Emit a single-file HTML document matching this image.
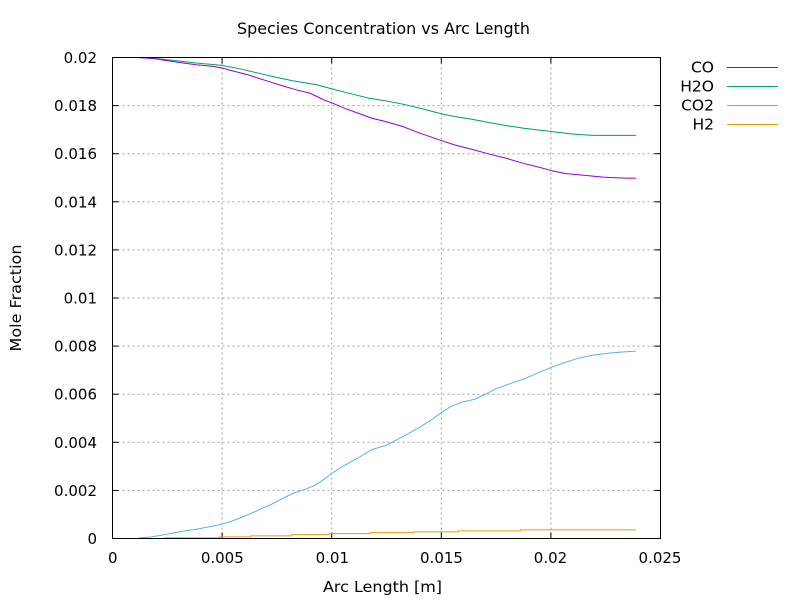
<!DOCTYPE html>
<html>
<head>
<meta charset="utf-8">
<style>
  html, body { margin: 0; padding: 0; background: #fff; }
  svg { display: block; }
  text { font-family: "DejaVu Sans", "Liberation Sans", sans-serif; fill: #000; }
</style>
</head>
<body>
<svg width="800" height="600" viewBox="0 0 800 600" xmlns="http://www.w3.org/2000/svg">
  <rect x="0" y="0" width="800" height="600" fill="#fff"/>

  <!-- grid -->
  <g stroke="#a0a0a0" stroke-width="1" stroke-dasharray="2,3" fill="none">
    <line x1="222.1" y1="57.5" x2="222.1" y2="538.5"/>
    <line x1="331.7" y1="57.5" x2="331.7" y2="538.5"/>
    <line x1="441.3" y1="57.5" x2="441.3" y2="538.5"/>
    <line x1="550.9" y1="57.5" x2="550.9" y2="538.5"/>
    <line x1="112.5" y1="490.4" x2="660.5" y2="490.4"/>
    <line x1="112.5" y1="442.3" x2="660.5" y2="442.3"/>
    <line x1="112.5" y1="394.2" x2="660.5" y2="394.2"/>
    <line x1="112.5" y1="346.1" x2="660.5" y2="346.1"/>
    <line x1="112.5" y1="298.0" x2="660.5" y2="298.0"/>
    <line x1="112.5" y1="249.9" x2="660.5" y2="249.9"/>
    <line x1="112.5" y1="201.8" x2="660.5" y2="201.8"/>
    <line x1="112.5" y1="153.7" x2="660.5" y2="153.7"/>
    <line x1="112.5" y1="105.6" x2="660.5" y2="105.6"/>
  </g>

  <!-- ticks -->
  <g stroke="#000" stroke-width="1">
    <line x1="222.1" y1="538.5" x2="222.1" y2="532.5"/>
    <line x1="331.7" y1="538.5" x2="331.7" y2="532.5"/>
    <line x1="441.3" y1="538.5" x2="441.3" y2="532.5"/>
    <line x1="550.9" y1="538.5" x2="550.9" y2="532.5"/>
    <line x1="222.1" y1="57.5" x2="222.1" y2="63.5"/>
    <line x1="331.7" y1="57.5" x2="331.7" y2="63.5"/>
    <line x1="441.3" y1="57.5" x2="441.3" y2="63.5"/>
    <line x1="550.9" y1="57.5" x2="550.9" y2="63.5"/>
    <line x1="112.5" y1="490.4" x2="118.5" y2="490.4"/>
    <line x1="112.5" y1="442.3" x2="118.5" y2="442.3"/>
    <line x1="112.5" y1="394.2" x2="118.5" y2="394.2"/>
    <line x1="112.5" y1="346.1" x2="118.5" y2="346.1"/>
    <line x1="112.5" y1="298.0" x2="118.5" y2="298.0"/>
    <line x1="112.5" y1="249.9" x2="118.5" y2="249.9"/>
    <line x1="112.5" y1="201.8" x2="118.5" y2="201.8"/>
    <line x1="112.5" y1="153.7" x2="118.5" y2="153.7"/>
    <line x1="112.5" y1="105.6" x2="118.5" y2="105.6"/>
    <line x1="660.5" y1="490.4" x2="654.5" y2="490.4"/>
    <line x1="660.5" y1="442.3" x2="654.5" y2="442.3"/>
    <line x1="660.5" y1="394.2" x2="654.5" y2="394.2"/>
    <line x1="660.5" y1="346.1" x2="654.5" y2="346.1"/>
    <line x1="660.5" y1="298.0" x2="654.5" y2="298.0"/>
    <line x1="660.5" y1="249.9" x2="654.5" y2="249.9"/>
    <line x1="660.5" y1="201.8" x2="654.5" y2="201.8"/>
    <line x1="660.5" y1="153.7" x2="654.5" y2="153.7"/>
    <line x1="660.5" y1="105.6" x2="654.5" y2="105.6"/>
  </g>

  <!-- upper curves (CO, H2O) -->
  <g transform="matrix(0.345 0 0 0.3347 109.8 49.64)" fill="none">
    <polyline vector-effect="non-scaling-stroke" stroke="#009e73" stroke-width="1"
      points="85,24 130,26 200,34 250,40 326,47 380,58 430,70 480,82 530,93 600,105 646,118 700,132 750,145 800,153 850,163 900,175 962,192 1000,200 1050,208 1100,218 1150,227 1200,235 1282,245 1340,252 1400,256 1525,256"/>
    <polyline vector-effect="non-scaling-stroke" stroke="#9400d3" stroke-width="1"
      points="85,24 130,27 160,32 200,38 250,45 300,50 326,55 350,62 400,75 430,85 460,95 500,108 540,120 580,130 600,140 620,150 646,160 680,175 720,190 760,205 800,215 850,230 900,250 962,272 1000,285 1050,298 1100,312 1150,325 1200,340 1250,353 1282,362 1320,370 1400,378 1430,381 1490,384 1525,384"/>
  </g>

  <!-- lower curves (CO2, H2) -->
  <g transform="matrix(0.345 0 0 0.3324 109.8 339.8)" fill="none">
    <polyline vector-effect="non-scaling-stroke" stroke="#56b4e9" stroke-width="1"
      points="85,596 120,593 150,588 180,582 210,576 250,570 290,562 320,556 350,547 380,535 410,522 440,508 470,494 500,478 530,462 560,452 590,440 610,428 646,400 680,378 720,355 760,330 800,318 830,302 860,285 900,262 940,235 962,218 990,200 1020,188 1060,178 1090,163 1120,147 1160,132 1200,118 1240,100 1282,82 1320,68 1360,55 1400,46 1440,41 1480,37 1525,34"/>
    <path vector-effect="non-scaling-stroke" stroke="#e69f00" stroke-width="1"
      d="M155,596 H318 V593 H408 V590 H527 V586 H636 V583 H755 V580 H880 V578 H1010 V575 H1190 V572 H1525"/>
  </g>

  <!-- border -->
  <rect x="112.5" y="57.5" width="548" height="481" fill="none" stroke="#000" stroke-width="1"/>

  <!-- y tick labels -->
  <g font-size="15" text-anchor="end">
    <text x="97" y="544">0</text>
    <text x="97" y="496">0.002</text>
    <text x="97" y="448">0.004</text>
    <text x="97" y="399.7">0.006</text>
    <text x="97" y="351.6">0.008</text>
    <text x="97" y="303.5">0.01</text>
    <text x="97" y="255.4">0.012</text>
    <text x="97" y="207.3">0.014</text>
    <text x="97" y="159.2">0.016</text>
    <text x="97" y="111.1">0.018</text>
    <text x="97" y="63">0.02</text>
  </g>

  <!-- x tick labels -->
  <g font-size="15" text-anchor="middle">
    <text x="112.8" y="563">0</text>
    <text x="222.3" y="563">0.005</text>
    <text x="332.3" y="563">0.01</text>
    <text x="441.5" y="563">0.015</text>
    <text x="550.5" y="563">0.02</text>
    <text x="660" y="563">0.025</text>
  </g>

  <!-- title and axis labels -->
  <text x="237" y="34" font-size="16" textLength="293" lengthAdjust="spacingAndGlyphs">Species Concentration vs Arc Length</text>
  <text x="323" y="592" font-size="15.5" textLength="119" lengthAdjust="spacingAndGlyphs">Arc Length [m]</text>
  <text transform="translate(21,298) rotate(-90)" x="-53.5" y="0" font-size="15.5" textLength="107" lengthAdjust="spacingAndGlyphs">Mole Fraction</text>

  <!-- legend -->
  <g font-size="15.5" text-anchor="end">
    <text x="714" y="72.5">CO</text>
    <text x="714" y="91.5">H2O</text>
    <text x="714" y="110.5">CO2</text>
    <text x="714" y="129.5">H2</text>
  </g>
  <g stroke-width="1">
    <line x1="727" y1="67.5" x2="778" y2="67.5" stroke="#9400d3"/>
    <line x1="727" y1="86.5" x2="778" y2="86.5" stroke="#009e73"/>
    <line x1="727" y1="105.5" x2="778" y2="105.5" stroke="#56b4e9"/>
    <line x1="727" y1="124.5" x2="778" y2="124.5" stroke="#e69f00"/>
  </g>
</svg>
</body>
</html>
